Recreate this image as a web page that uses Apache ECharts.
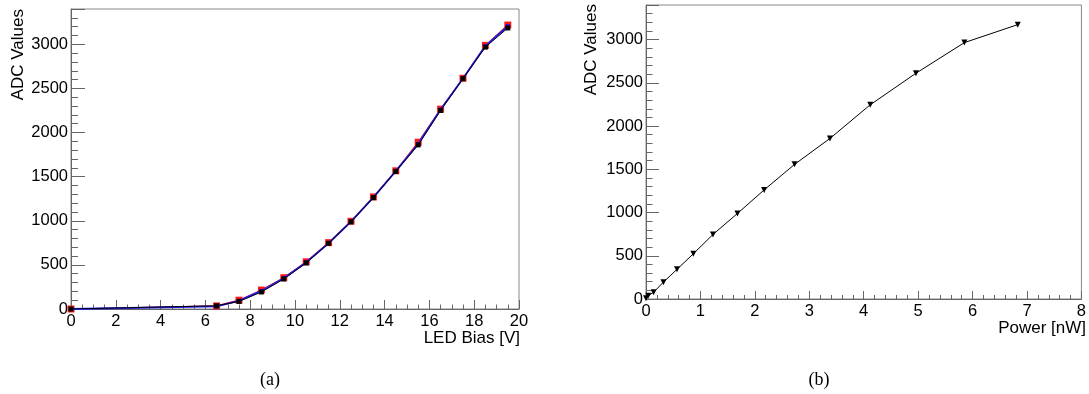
<!DOCTYPE html>
<html>
<head>
<meta charset="utf-8">
<script src="https://cdn.jsdelivr.net/npm/echarts@6/dist/echarts.min.js"></script>
<style>
html,body{margin:0;padding:0;background:#fff;}
#c{width:1089px;height:394px;}
</style>
</head>
<body>
<div id="c"></div>
<script>
// ---- data ----
const ledBias = [0, 6.5, 7.5, 8.5, 9.5, 10.5, 11.5, 12.5, 13.5, 14.5, 15.5, 16.5, 17.5, 18.5, 19.5];
const adcRed   = [0, 35, 100, 215, 355, 535, 752, 994, 1270, 1566, 1890, 2265, 2615, 2988, 3218];
const adcBlue  = [0, 30, 92, 205, 348, 528, 745, 990, 1265, 1562, 1870, 2260, 2612, 2980, 3205];
const adcBlack = [0, 36, 86, 193, 340, 522, 745, 988, 1262, 1560, 1860, 2250, 2610, 2968, 3185];

const power    = [0, 0.04, 0.14, 0.32, 0.57, 0.87, 1.23, 1.68, 2.17, 2.73, 3.38, 4.12, 4.96, 5.85, 6.83];
const adcPower = [10, 38, 78, 195, 343, 523, 746, 989, 1261, 1557, 1857, 2246, 2611, 2965, 3173];

const yTitle = 'ADC Values';
const xTitleA = 'LED Bias [V]';
const xTitleB = 'Power [nW]';
const captions = ['(a)', '(b)'];

function pairs(xs, ys){ return xs.map((x,i)=>[x, ys[i]]); }

const font = 'Liberation Sans, Arial, sans-serif';
const axisCol = '#666';
const fs = 16.5;

function yAxis(gi, majorLen, minorLen){
  return {
    type:'value', gridIndex:gi, min:0, max:3400, interval:500,
    axisLine:{show:true, lineStyle:{color:axisCol, width:1}},
    axisTick:{show:true, inside:true, length:majorLen, lineStyle:{color:axisCol}},
    minorTick:{show:true, splitNumber:5, length:minorLen, lineStyle:{color:axisCol}},
    splitLine:{show:false}, minorSplitLine:{show:false},
    axisLabel:{color:'#000', fontFamily:font, fontSize:fs, margin:3,
      formatter:v=> (v>3000 ? '' : String(v))}
  };
}
function xAxis(gi, max, interval, minorSplit, majorLen, minorLen){
  return {
    type:'value', gridIndex:gi, min:0, max:max, interval:interval,
    axisLine:{show:true, onZero:false, lineStyle:{color:axisCol, width:1}},
    axisTick:{show:true, inside:true, length:majorLen, lineStyle:{color:axisCol}},
    minorTick:{show:true, splitNumber:minorSplit, length:minorLen, lineStyle:{color:axisCol}},
    splitLine:{show:false}, minorSplitLine:{show:false},
    axisLabel:{color:'#000', fontFamily:font, fontSize:fs, margin:4, showMaxLabel:true, showMinLabel:true}
  };
}

const chart = echarts.init(document.getElementById('c'), null, {renderer:'canvas'});
chart.setOption({
  animation:false,
  backgroundColor:'#fff',
  grid:[
    {left:71, top:9, width:448, height:300, show:true, borderColor:'#888', borderWidth:1, backgroundColor:'transparent'},
    {left:646, top:5, width:439, height:294, show:true, borderColor:'#888', borderWidth:1, backgroundColor:'transparent'}
  ],
  xAxis:[ xAxis(0, 20, 2, 4, 9, 4.5), xAxis(1, 8, 1, 5, 8, 4) ],
  yAxis:[ yAxis(0, 14, 7), yAxis(1, 13, 6.5) ],
  series:[
    {type:'line', xAxisIndex:0, yAxisIndex:0, data:pairs(ledBias, adcRed),
     symbol:'rect', symbolSize:7, itemStyle:{color:'#ff1a1a'}, lineStyle:{color:'#e00000', width:1.2}, z:2},
    {type:'line', xAxisIndex:0, yAxisIndex:0, data:pairs(ledBias, adcBlue),
     symbol:'rect', symbolSize:4, itemStyle:{color:'#1010ff'}, lineStyle:{color:'#2020ff', width:1.8}, z:3},
    {type:'line', xAxisIndex:0, yAxisIndex:0, data:pairs(ledBias, adcBlack),
     symbol:'rect', symbolSize:5, itemStyle:{color:'#000'}, lineStyle:{color:'#000', width:1}, z:4},
    {type:'line', xAxisIndex:1, yAxisIndex:1, data:pairs(power, adcPower),
     symbol:'triangle', symbolRotate:180, symbolSize:6, itemStyle:{color:'#000'}, lineStyle:{color:'#000', width:1}, z:4}
  ],
  graphic:[
    {type:'text', x:18, y:9, rotation:Math.PI/2,
     style:{text:yTitle, font:'17px '+font, fill:'#000', align:'right', verticalAlign:'middle'}},
    {type:'text', x:591, y:4, rotation:Math.PI/2,
     style:{text:yTitle, font:'17px '+font, fill:'#000', align:'right', verticalAlign:'middle'}},
    {type:'text', x:520, y:338, style:{text:xTitleA, font:'17px '+font, fill:'#000', align:'right', verticalAlign:'middle'}},
    {type:'text', x:1086, y:328, style:{text:xTitleB, font:'17px '+font, fill:'#000', align:'right', verticalAlign:'middle'}},
    {type:'text', x:270, y:380, style:{text:captions[0], font:'18px Liberation Serif, Times New Roman, serif', fill:'#000', align:'center', verticalAlign:'middle'}},
    {type:'text', x:819, y:380, style:{text:captions[1], font:'18px Liberation Serif, Times New Roman, serif', fill:'#000', align:'center', verticalAlign:'middle'}}
  ]
});
</script>
</body>
</html>
